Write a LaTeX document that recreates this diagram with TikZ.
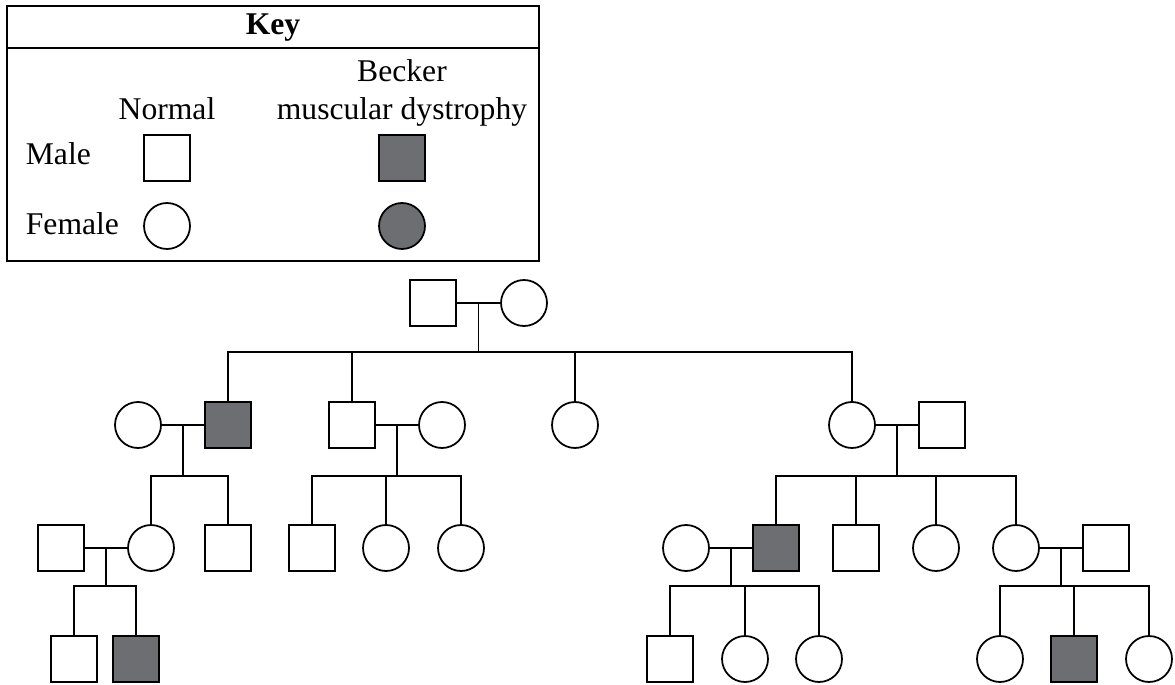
\documentclass[tikz,border=0pt]{standalone}
\usepackage{fontspec}
\setmainfont{Liberation Serif}
\usetikzlibrary{calc}
\definecolor{bmdgray}{RGB}{109,110,113}
\tikzset{
  male/.style={draw,rectangle,minimum size=0.92cm,inner sep=0pt,fill=white},
  female/.style={draw,circle,minimum size=0.92cm,inner sep=0pt,fill=white},
  bmd/.style={fill=bmdgray},
  lbl/.style={anchor=base,inner sep=0pt}
}
\begin{document}
\begin{tikzpicture}[x=0.02cm,y=-0.02cm,line width=1pt,font=\fontsize{18}{21}\selectfont]
\useasboundingbox (0,0) rectangle (1175,685);
% key
\draw (7,6) rectangle (539,261);
\draw (7,48) -- (539,48);
\node[lbl,font=\fontsize{18}{21}\selectfont\bfseries] (key) at (273,35) {Key};
\node[lbl] (becker) at (402,82) {Becker};
\node[lbl] (bmdtxt) at (402,120) {muscular dystrophy};
\node[lbl] (normal) at (167,120) {Normal};
\node[lbl,anchor=base west] (maletxt) at (25,165) {Male};
\node[lbl,anchor=base west] (femtxt) at (25,235) {Female};
\node[male] (kMn) at (167,158) {};
\node[male,bmd] (kMa) at (402,158) {};
\node[female] (kFn) at (167,226) {};
\node[female,bmd] (kFa) at (402,226) {};

% generation I
\node[male] (I1) at (433,303) {};
\node[female] (I2) at (524,303) {};
% generation II
\node[female] (IIa) at (138,425) {};
\node[male,bmd] (IIb) at (228,425) {};
\node[male] (IIc) at (352,425) {};
\node[female] (IId) at (442,425) {};
\node[female] (IIe) at (575,425) {};
\node[female] (IIf) at (852,425) {};
\node[male] (IIg) at (942,425) {};
% generation III
\node[male] (IIIa) at (61,548) {};
\node[female] (IIIb) at (151,548) {};
\node[male] (IIIc) at (228,548) {};
\node[male] (IIId) at (312,548) {};
\node[female] (IIIe) at (386,548) {};
\node[female] (IIIf) at (461,548) {};
\node[female] (IIIg) at (686,548) {};
\node[male,bmd] (IIIh) at (776,548) {};
\node[male] (IIIi) at (856,548) {};
\node[female] (IIIj) at (936,548) {};
\node[female] (IIIk) at (1016,548) {};
\node[male] (IIIl) at (1106,548) {};
% generation IV
\node[male] (IVa) at (74,659) {};
\node[male,bmd] (IVb) at (136,659) {};
\node[male] (IVc) at (670,659) {};
\node[female] (IVd) at (745,659) {};
\node[female] (IVe) at (819,659) {};
\node[female] (IVf) at (1000,659) {};
\node[male,bmd] (IVg) at (1074,659) {};
\node[female] (IVh) at (1149,659) {};

% couples and sibships
\draw (I1) -- (I2);
\coordinate (s1) at ($(I1)!.5!(I2)+(0,49)$);
\draw ($(I1)!.5!(I2)$) -- (s1);
\draw (IIb.north) |- (s1) -| (IIf.north);
\foreach \c in {IIc,IIe} \draw (\c.north) -- (\c.north |- s1);

\draw (IIa) -- (IIb);
\coordinate (s2) at ($(IIa)!.5!(IIb)+(0,51)$);
\draw ($(IIa)!.5!(IIb)$) -- (s2);
\draw (IIIb.north) |- (s2) -| (IIIc.north);

\draw (IIc) -- (IId);
\coordinate (s3) at ($(IIc)!.5!(IId)+(0,51)$);
\draw ($(IIc)!.5!(IId)$) -- (s3);
\draw (IIId.north) |- (s3) -| (IIIf.north);
\draw (IIIe.north) -- (IIIe.north |- s3);

\draw (IIf) -- (IIg);
\coordinate (s4) at ($(IIf)!.5!(IIg)+(0,51)$);
\draw ($(IIf)!.5!(IIg)$) -- (s4);
\draw (IIIh.north) |- (s4) -| (IIIk.north);
\foreach \c in {IIIi,IIIj} \draw (\c.north) -- (\c.north |- s4);

\draw (IIIa) -- (IIIb);
\coordinate (s5) at ($(IIIa)!.5!(IIIb)+(0,38)$);
\draw ($(IIIa)!.5!(IIIb)$) -- (s5);
\draw (IVa.north) |- (s5) -| (IVb.north);

\draw (IIIg) -- (IIIh);
\coordinate (s6) at ($(IIIg)!.5!(IIIh)+(0,38)$);
\draw ($(IIIg)!.5!(IIIh)$) -- (s6);
\draw (IVc.north) |- (s6) -| (IVe.north);
\draw (IVd.north) -- (IVd.north |- s6);

\draw (IIIk) -- (IIIl);
\coordinate (s7) at ($(IIIk)!.5!(IIIl)+(0,38)$);
\draw ($(IIIk)!.5!(IIIl)$) -- (s7);
\draw (IVf.north) |- (s7) -| (IVh.north);
\draw (IVg.north) -- (IVg.north |- s7);
\end{tikzpicture}
\end{document}
